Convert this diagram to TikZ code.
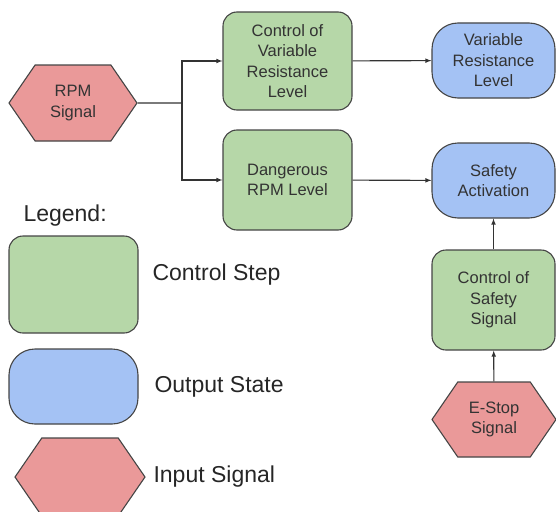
\documentclass[tikz,border=0pt]{standalone}
\usepackage{fontspec}
\setmainfont{Liberation Sans}
\usetikzlibrary{arrows,positioning,shapes.symbols}

\definecolor{ctrlgreen}{HTML}{B6D7A8}
\definecolor{outblue}{HTML}{A4C2F4}
\definecolor{inred}{HTML}{EA9999}
\definecolor{edgegray}{HTML}{454545}
\newcommand{\boxfont}{\fontsize{16.5}{20.5}\selectfont}
\newcommand{\legfont}{\fontsize{23}{27}\selectfont}

\tikzset{
  ctrl/.style={draw=edgegray, fill=ctrlgreen, rounded corners=14pt, line width=1.1pt,
    inner sep=0pt, minimum width=129pt, minimum height=98pt, align=center, font=\boxfont, text=black!80},
  outstate/.style={draw=edgegray, fill=outblue, rounded corners=26pt, line width=1.1pt,
    inner sep=0pt, minimum width=123pt, minimum height=75pt, align=center, font=\boxfont, text=black!80},
  insig/.style={draw=edgegray, fill=inred, signal, signal to=west and east, signal pointer angle=111,
    line width=1.1pt, inner sep=0pt, minimum width=128pt, minimum height=76pt, align=center, font=\boxfont, text=black!80},
  legtext/.style={anchor=west, font=\legfont, text=black!85},
  link/.style={draw=black!80, line width=1.1pt}
}

\begin{document}
\begin{tikzpicture}[x=1pt, y=-1pt]
        \useasboundingbox (0,0) rectangle (556,511);
        %nodes
        \node[insig] (rpm) at (73, 103) {RPM\\Signal};
        \node[ctrl] (ctrlvar) at (287.5, 61) {Control of\\Variable\\Resistance\\Level};
        \node[ctrl, minimum height=100pt] (danger) at (287.5, 180) {Dangerous\\RPM Level};
        \node[outstate] (varres) at (493.5, 60.5) {Variable\\Resistance\\Level};
        \node[outstate] (safety) at (493.5, 180.5) {Safety\\Activation};
        \node[ctrl, minimum width=123pt, minimum height=100pt] (ctrlsafe) at (493.5, 300) {Control of\\Safety\\Signal};
        \node[insig, minimum width=124pt, minimum height=75pt] (estop) at (494, 419.5) {E-Stop\\Signal};
        \coordinate (split) at (182, 103);
        %legend
        \node[legtext] (legend) at (20, 216) {Legend:};
        \node[ctrl, minimum height=97pt] (legctrl) at (73.5, 284.5) {};
        \node[outstate, minimum width=129pt] (legout) at (73.5, 386.5) {};
        \node[insig, minimum width=130pt, minimum height=78pt] (legin) at (80, 477) {};
        \node[legtext] (legctrltxt) at (149, 275) {Control Step};
        \node[legtext] (legouttxt) at (151, 387) {Output State};
        \node[legtext] (legintxt) at (150, 477) {Input Signal};
        %edges
        \path [link] (rpm) -- (split);
        \path [link,-latex] (split) |- (ctrlvar);
        \path [link,-latex] (split) |- (danger);
        \path [link,-latex] (ctrlvar) -- (varres);
        \path [link,-latex] (danger) -- (safety);
        \path [link,-latex] (ctrlsafe) -- (safety);
        \path [link,-latex] (estop) -- (ctrlsafe);
\end{tikzpicture}
\end{document}
